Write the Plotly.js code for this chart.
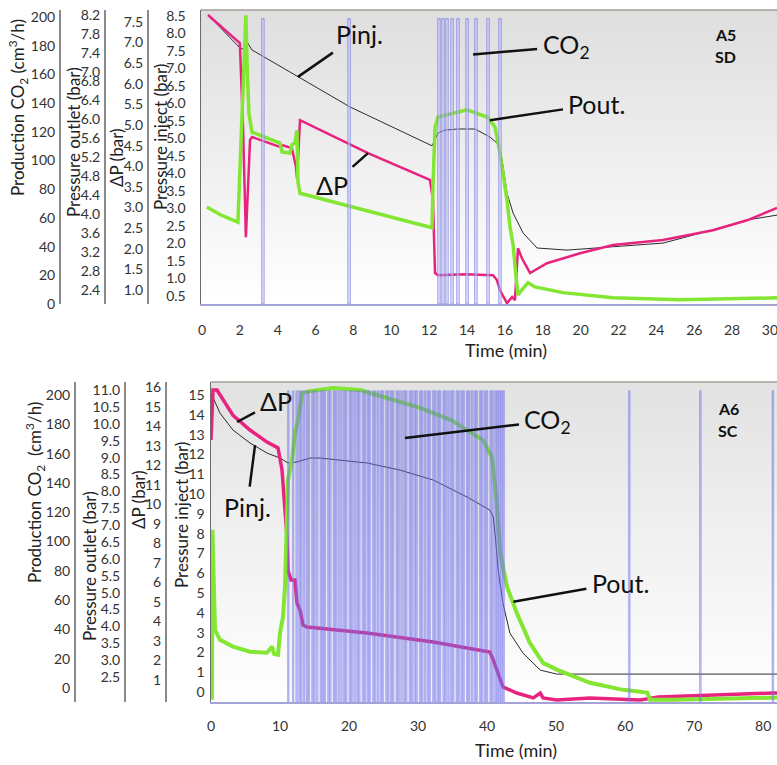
<!DOCTYPE html>
<html><head><meta charset="utf-8">
<script src="https://cdn.plot.ly/plotly-3.0.1.min.js"></script>
<style>html,body{margin:0;padding:0;background:#fff}#chart{width:777px;height:765px}</style>
</head><body><div id="chart"></div>
<script>
// ---------- Run A5 SD (top) ----------
const xTicksA = [0,2,4,6,8,10,12,14,16,18,20,22,24,26,28,30];
const pinjTicksA = [0.5,1.0,1.5,2.0,2.5,3.0,3.5,4.0,4.5,5.0,5.5,6.0,6.5,7.0,7.5,8.0,8.5];
const dpTicksA = [1.0,1.5,2.0,2.5,3.0,3.5,4.0,4.5,5.0,5.5,6.0,6.5,7.0,7.5];
const poutTicksA = [2.4,2.8,3.2,3.6,4.0,4.4,4.8,5.2,5.6,6.0,6.4,6.8,7.0,7.4,7.8,8.2];
const co2Ticks = [0,20,40,60,80,100,120,140,160,180,200];

const pinjA_t = [0.32,2.0,2.15,2.38,2.64,5.07,7.82,12.15,12.47,12.84,13.52,14.42,15.21,15.58,15.85,16.11,16.43,16.96,17.7,19.28,21.71,24.35,26.99,28.79,30.37];
const pinjA_v = [8.53,7.59,7.55,7.76,7.53,6.76,5.90,4.79,5.16,5.24,5.27,5.27,5.04,4.87,4.39,3.44,2.87,2.30,1.87,1.81,1.90,2.01,2.39,2.67,2.81];

const dpA_t = [0.32,2.0,2.17,2.32,2.54,2.64,4.12,4.28,4.75,4.86,4.97,5.02,5.18,8.77,12.04,12.2,12.31,12.47,13.89,15.37,15.58,15.74,16.01,16.11,16.38,16.53,16.69,16.9,17.33,18.22,19.97,21.71,24.35,26.99,28.79,30.37];
const dpA_v = [7.67,6.99,4.95,2.28,4.64,4.71,4.47,4.51,4.44,4.22,3.98,3.71,5.12,4.32,3.67,3.18,1.41,1.36,1.38,1.36,1.24,0.99,0.75,0.68,0.83,0.75,2.01,1.77,1.41,1.65,1.89,2.09,2.21,2.45,2.69,2.99];

const poutA_t = [0.26,1.0,1.9,2.0,2.22,2.32,2.38,2.48,2.64,4.12,4.23,4.65,4.75,4.91,5.02,5.07,5.18,8.35,12.15,12.2,12.31,12.47,13.47,14.0,15.06,15.21,15.48,15.74,15.9,16.11,16.27,16.43,16.59,16.69,16.9,17.22,17.59,19.07,21.71,25.25,30.37];
const poutA_v = [4.15,3.98,3.83,4.99,7.25,8.2,7.21,6.13,5.73,5.50,5.31,5.29,5.46,5.50,5.77,4.68,4.44,4.11,3.71,4.57,5.84,6.05,6.15,6.2,6.05,5.98,5.84,5.29,4.87,4.30,3.73,3.35,2.67,2.29,2.40,2.55,2.46,2.34,2.23,2.19,2.23];

const co2A_t = [3.22,7.77,12.52,12.73,12.94,13.21,13.52,14.0,14.47,15.11,15.74];
const co2A_v = [199,199,199,199,199,199,199,199,199,199,199];

// ---------- Run A6 SC (bottom) ----------
const xTicksB = [0,10,20,30,40,50,60,70,80];
const pinjTicksB = [0,1,2,3,4,5,6,7,8,9,10,11,12,13,14,15];
const dpTicksB = [1,2,3,4,5,6,7,8,9,10,11,12,13,14,15,16];
const poutTicksB = [2.5,3.0,3.5,4.0,4.5,5.0,5.5,6.0,6.5,7.0,7.5,8.0,8.5,9.0,9.5,10.0,10.5,11.0];

const pinjB_t = [0.14,1.3,3.19,5.65,8.12,10.0,11.16,12.46,14.35,15.8,22.6,27.4,32.2,37.1,40.4,40.9,41.2,41.6,42.3,43.3,45.2,47.7,50.1,82.0];
const pinjB_v = [15.0,14.09,13.23,12.58,12.07,11.82,11.57,11.62,11.82,11.82,11.57,11.21,10.71,9.85,9.19,8.84,7.83,6.16,4.49,2.98,1.97,1.11,0.91,0.91];

const dpB_t = [0.0,0.29,0.87,3.19,5.65,8.12,9.71,10.29,10.72,11.01,11.16,11.59,12.17,12.46,12.9,13.33,13.91,22.6,32.2,40.4,40.9,41.4,42.3,44.3,46.7,47.7,48.1,50.1,54.9,62.2,64.8,81.4,82.0];
const dpB_v = [13.29,15.85,15.85,14.55,13.80,13.18,12.88,11.75,9.70,8.32,6.63,6.12,6.12,4.94,4.58,3.81,3.71,3.40,2.94,2.43,2.02,1.51,0.64,0.33,0.08,0.33,0.08,-0.03,0.08,-0.03,0.13,0.33,0.33];

const poutB_t = [0.14,0.2,0.58,1.3,3.19,5.65,8.12,8.84,9.13,9.71,10.0,10.43,10.72,11.01,11.16,11.74,12.17,12.61,13.19,14.35,17.68,21.6,24.9,29.9,34.8,39.4,40.7,41.4,41.9,42.9,44.3,46.2,48.1,50.1,54.9,59.7,63.2,63.6,67.0,82.0];
const poutB_v = [1.83,6.86,3.90,3.60,3.40,3.25,3.22,3.40,3.19,3.16,3.81,4.28,5.17,7.36,8.34,8.93,9.73,10.11,10.91,10.97,11.06,11.0,10.79,10.50,10.11,9.52,9.02,7.66,6.18,5.17,4.40,3.51,2.92,2.72,2.33,2.12,2.04,1.83,1.83,1.89];

const co2B_t = [11.2,11.9,12.4,12.8,13.1,13.5,13.9,14.2,14.7,15.0,
 15.4,15.9,16.2,16.5,17.0,17.3,17.8,18.1,18.5,18.9,
 19.3,19.6,20.1,20.4,20.8,21.2,21.5,22.0,22.3,22.7,
 23.0,23.5,23.8,24.2,24.6,24.9,25.4,25.7,26.1,26.4,
 26.9,27.2,27.6,28.0,28.3,28.8,29.1,29.5,29.8,30.3,
 30.6,31.0,31.4,31.7,32.2,32.5,32.9,33.2,33.7,34.0,
 34.4,34.8,35.1,35.6,35.9,36.3,36.6,37.1,37.4,37.8,
 38.2,38.5,39.0,39.3,39.7,40.0,40.5,40.8,41.2,41.5,
 41.8,42.1,42.4,60.6,70.9,81.4];
const co2B_v = [203,203,203,203,203,203,203,203,203,203,
 203,203,203,203,203,203,203,203,203,203,
 203,203,203,203,203,203,203,203,203,203,
 203,203,203,203,203,203,203,203,203,203,
 203,203,203,203,203,203,203,203,203,203,
 203,203,203,203,203,203,203,203,203,203,
 203,203,203,203,203,203,203,203,203,203,
 203,203,203,203,203,203,203,203,203,203,
 203,203,203,203,203,203];

// ---------- layout helpers ----------
const W = 777, H = 765;
const PX = x => x / W, PY = y => 1 - y / H;
const FONT = 'Lato, "Open Sans", Arial, sans-serif';
const PINK = '#e8237f', GREEN = '#82e632', INK = '#2b2b2b';
const tickFont = {family: FONT, size: 14, color: '#333'};
const domA = [PY(304), PY(10)], domB = [PY(702), PY(382)];
const SPIKE_FLOOR_B = -10;   // spikes of the lower run are drawn down to the frame

function grad(c) {
  const svg = '<svg xmlns="http://www.w3.org/2000/svg" width="100" height="100" viewBox="0 0 100 100" preserveAspectRatio="none">' +
    '<defs><linearGradient id="g" x1="0" y1="0" x2="0" y2="1"><stop offset="0" stop-color="' + c + '"/>' +
    '<stop offset="1" stop-color="#ffffff"/></linearGradient></defs><rect width="100" height="100" fill="url(#g)"/></svg>';
  return 'data:image/svg+xml;charset=utf-8,' + encodeURIComponent(svg);
}

function freeAxis(over, pos, range, vals, fmt, dom) {
  return {overlaying: over, anchor: 'free', position: pos, side: 'left', domain: dom,
    range: range, tickvals: vals, tickformat: fmt, ticks: '', ticklabelstandoff: 1,
    showline: true, linecolor: '#8a8a8a', linewidth: 1.5, showgrid: false, zeroline: false,
    tickfont: tickFont, automargin: false};
}

const traces = [
  {type: 'scatter', mode: 'lines', name: 'Pinj.', x: pinjA_t, y: pinjA_v, xaxis: 'x', yaxis: 'y', line: {color: INK, width: 1}},
  {type: 'scatter', mode: 'lines', name: 'ΔP', x: dpA_t, y: dpA_v, xaxis: 'x', yaxis: 'y2', line: {color: PINK, width: 2.5}},
  {type: 'scatter', mode: 'lines', name: 'Pout.', x: poutA_t, y: poutA_v, xaxis: 'x', yaxis: 'y3', line: {color: GREEN, width: 3.5}},
  {type: 'bar', name: 'CO2', x: co2A_t, y: co2A_v, xaxis: 'x', yaxis: 'y4', width: 0.13,
   marker: {color: 'rgba(200,200,250,0.5)', line: {color: 'rgba(125,125,228,0.9)', width: 0.8}}},

  {type: 'scatter', mode: 'lines', name: 'Pinj.', x: pinjB_t, y: pinjB_v, xaxis: 'x2', yaxis: 'y5', line: {color: INK, width: 1}},
  {type: 'scatter', mode: 'lines', name: 'ΔP', x: dpB_t, y: dpB_v, xaxis: 'x2', yaxis: 'y6', line: {color: PINK, width: 3.5}},
  {type: 'scatter', mode: 'lines', name: 'Pout.', x: poutB_t, y: poutB_v, xaxis: 'x2', yaxis: 'y7', line: {color: GREEN, width: 4}},
  {type: 'bar', name: 'CO2', x: co2B_t, y: co2B_v.map(v => v - SPIKE_FLOOR_B), base: SPIKE_FLOOR_B,
   xaxis: 'x2', yaxis: 'y8', width: 0.26,
   marker: {color: 'rgba(118,118,238,0.5)', line: {color: 'rgba(110,110,228,0.6)', width: 0.5}}}
];

function ann(text, x, y, xref, yref, ax, ay) {
  return {text: text, x: x, y: y, xref: xref, yref: yref, ax: ax, ay: ay, showarrow: true,
    arrowhead: 0, arrowwidth: 2.5, arrowcolor: '#111', startstandoff: 4,
    font: {family: FONT, size: 25, color: '#111'}};
}
function title(text, x, y, rot, size) {
  return {text: text, x: PX(x), y: PY(y), xref: 'paper', yref: 'paper', showarrow: false,
    textangle: rot, xanchor: 'center', yanchor: 'middle', font: {family: FONT, size: size, color: '#222'}};
}
function tag(text, x, y) {
  return {text: text, x: PX(x), y: PY(y), xref: 'paper', yref: 'paper', showarrow: false,
    xanchor: 'center', yanchor: 'middle', font: {family: FONT, size: 16, color: '#111'}};
}

const layout = {
  width: W, height: H, margin: {l: 0, r: 0, t: 0, b: 0},
  paper_bgcolor: '#ffffff', plot_bgcolor: 'rgba(0,0,0,0)', showlegend: false, barmode: 'overlay',
  xaxis: {domain: [PX(201), 1], anchor: 'y', range: [-0.05, 30.37], tickvals: xTicksA, ticks: '',
    ticklabelstandoff: 12, ticklabeloverflow: 'allow', showline: true, linecolor: '#a3a3d8', linewidth: 2,
    showgrid: false, zeroline: false, tickfont: tickFont, automargin: false},
  yaxis: {domain: domA, anchor: 'x', range: [0.27, 8.67], tickvals: pinjTicksA, tickformat: '.1f',
    ticks: '', ticklabelstandoff: 11, showline: true, linecolor: '#6a6a6a', linewidth: 1.5,
    showgrid: false, zeroline: false, tickfont: tickFont, automargin: false},
  yaxis2: freeAxis('y', PX(147), [0.66, 7.79], dpTicksA, '.1f', domA),
  yaxis3: freeAxis('y', PX(104), [2.10, 8.31], poutTicksA, '.1f', domA),
  yaxis4: freeAxis('y', PX(59), [0, 205], co2Ticks, 'd', domA),

  xaxis2: {domain: [PX(211), 1], anchor: 'y5', range: [0, 82.0], tickvals: xTicksB, ticks: '',
    ticklabelstandoff: 10, ticklabeloverflow: 'allow', showline: true, linecolor: '#a3a3d8', linewidth: 2,
    showgrid: false, zeroline: false, tickfont: tickFont, automargin: false},
  yaxis5: {domain: domB, anchor: 'x2', range: [-0.5, 15.66], tickvals: pinjTicksB, tickformat: 'd',
    ticks: '', ticklabelstandoff: 2, showline: true, linecolor: '#6a6a6a', linewidth: 1.5,
    showgrid: false, zeroline: false, tickfont: tickFont, automargin: false},
  yaxis6: freeAxis('y5', PX(165), [-0.13, 16.26], dpTicksB, 'd', domB),
  yaxis7: freeAxis('y5', PX(124), [1.76, 11.24], poutTicksB, '.1f', domB),
  yaxis8: freeAxis('y5', PX(74), [-9.6, 208.9], co2Ticks, 'd', domB),

  images: [
    {source: grad('#dedede'), xref: 'paper', yref: 'paper', x: PX(201), y: PY(10), sizex: 1 - PX(201),
     sizey: (304 - 10) / H, xanchor: 'left', yanchor: 'top', sizing: 'stretch', layer: 'below'},
    {source: grad('#e2e2e2'), xref: 'paper', yref: 'paper', x: PX(211), y: PY(382), sizex: 1 - PX(211),
     sizey: (702 - 382) / H, xanchor: 'left', yanchor: 'top', sizing: 'stretch', layer: 'below'}
  ],
  shapes: [
    {type: 'line', xref: 'paper', yref: 'paper', x0: PX(201), x1: 1, y0: PY(10), y1: PY(10), line: {color: '#a59d95', width: 1.5}},
    {type: 'line', xref: 'paper', yref: 'paper', x0: PX(211), x1: 1, y0: PY(382), y1: PY(382), line: {color: '#a59d95', width: 1.5}}
  ],
  annotations: [
    ann('Pinj.', 5.07, 6.76, 'x', 'y', 62, -43),
    ann('ΔP', 8.77, 4.32, 'x', 'y2', -36, 32),
    ann('CO<sub>2</sub>', 14.32, 174, 'x', 'y4', 93, -8),
    ann('Pout.', 15.21, 5.98, 'x', 'y3', 107, -16),
    tag('<b>A5</b>', 725, 35), tag('<b>SD</b>', 725, 57),

    ann('ΔP', 3.77, 14.21, 'x2', 'y6', 39, -21),
    ann('Pinj.', 6.38, 12.47, 'x2', 'y5', -8, 62),
    ann('CO<sub>2</sub>', 28.1, 170.6, 'x2', 'y8', 143, -17),
    ann('Pout.', 43.8, 4.73, 'x2', 'y7', 107, -19),
    tag('<b>A6</b>', 728, 408), tag('<b>SC</b>', 728, 430),

    title('Production CO<sub>2</sub> (cm<sup>3</sup>/h)', 18, 108, -90, 17),
    title('Pressure outlet (bar)', 73, 142, -90, 17),
    title('ΔP (bar)', 117, 158, -90, 17),
    title('Pressure inject (bar)', 160, 137, -90, 17),
    title('Time (min)', 506, 350, 0, 18),

    title('Production CO<sub>2</sub>  (cm<sup>3</sup>/h)', 35, 493, -90, 17),
    title('Pressure outlet (bar)', 89, 566, -90, 17),
    title('ΔP (bar)', 138, 500, -90, 17),
    title('Pressure inject (bar)', 181, 515, -90, 17),
    title('Time (min)', 516, 750, 0, 18)
  ]
};

Plotly.newPlot('chart', traces, layout, {displayModeBar: false, staticPlot: true});
</script></body></html>
